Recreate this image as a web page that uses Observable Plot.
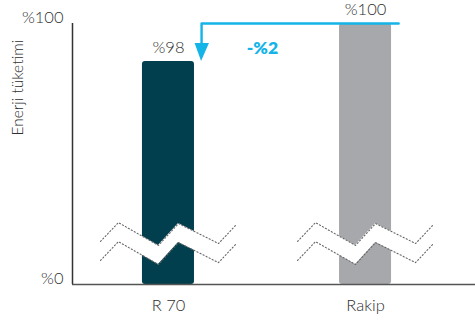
<!DOCTYPE html>
<html>
<head>
<meta charset="utf-8">
<script src="https://cdn.jsdelivr.net/npm/d3@7"></script>
<script src="https://cdn.jsdelivr.net/npm/@observablehq/plot@0.6"></script>
<style>
  html, body { margin: 0; padding: 0; background: #fff; }
  #chart svg { display: block; }
</style>
</head>
<body>
<div id="chart"></div>
<script>
// Energy consumption: R 70 vs. competitor, on a broken value axis
const categories = ["R 70", "Rakip"];
const values = [98, 100];
const valueLabels = ["%98", "%100"];
const barColors = ["#023f4e", "#a7a8ab"];
const yTitle = "Enerji tüketimi";

// visible floor of the broken axis and its two labelled ticks
const axisFloor = 86.3;
const tickValues = [axisFloor, 100];
const tickLabels = ["%0", "%100"];

// zigzag "axis break" drawn across each bar (offsets from the bar centre, in value units)
const breakDx = [-0.345, -0.254, -0.051, 0.051, 0.254, 0.345];
const breakTop = [88.56, 89.55, 88.35, 89.5, 88.45, 89.45];
const breakGap = 1.0;

const barHalf = 0.132;
const xDomain = [-0.487, 1.558];
const accent = "#14b4e8";
const ink = "#2e2e2e";

const bars = categories.map((c, i) => ({
  i, name: c, value: values[i], label: valueLabels[i], color: barColors[i]
}));

const breakPts = [];
bars.forEach(b => {
  breakDx.forEach((dx, k) => {
    breakPts.push({ bar: b.i, x: b.i + dx, top: breakTop[k], bottom: breakTop[k] - breakGap });
  });
});
const breakLines = breakPts.flatMap(p => [
  { z: `${p.bar}-a`, x: p.x, y: p.top },
  { z: `${p.bar}-b`, x: p.x, y: p.bottom }
]);

// difference arrow from the competitor level down to R 70
const arrowX = 0.168;
const arrowPath = [
  { x: 1.168, y: values[1] },
  { x: arrowX, y: values[1] },
  { x: arrowX, y: 98.9 }
];
const arrowHead = [
  { x: arrowX - 0.033, y1: 98.95, y2: 98.95 },
  { x: arrowX, y1: 98.95, y2: values[0] },
  { x: arrowX + 0.04, y1: 98.95, y2: 98.95 }
];
const diffLabel = `-%${values[1] - values[0]}`;

const chart = Plot.plot({
  width: 475,
  height: 322,
  marginLeft: 72,
  marginRight: 0,
  marginTop: 23,
  marginBottom: 38,
  style: { fontFamily: "Lato, sans-serif", fontSize: "16px", fontWeight: 300, color: ink, background: "#fff" },
  x: { domain: xDomain, axis: null },
  y: { domain: [axisFloor, 100], axis: null },
  marks: [
    Plot.rectY(bars, {
      x1: d => d.i - barHalf, x2: d => d.i + barHalf,
      y1: axisFloor, y2: "value", fill: "color", rx: 3
    }),
    Plot.areaY(breakPts, { x: "x", y1: "bottom", y2: "top", z: "bar", fill: "#fff" }),
    Plot.line(breakLines, {
      x: "x", y: "y", z: "z", stroke: "#666", strokeWidth: 1.1, strokeDasharray: "1.2 2.2"
    }),
    Plot.ruleY([axisFloor], { stroke: "#555", strokeWidth: 1.5 }),
    Plot.ruleX([xDomain[0]], { y1: axisFloor, y2: 100, stroke: "#333", strokeWidth: 1.5 }),
    Plot.axisY({
      ticks: tickValues, tickFormat: (d, i) => tickLabels[i],
      tickSize: 0, tickPadding: 9, fontSize: 16.5, dy: -6, label: null, fill: ink
    }),
    Plot.axisX({
      ticks: [0, 1], tickFormat: i => categories[i],
      tickSize: 0, tickPadding: 15, fontSize: 16.5, label: null, fill: ink
    }),
    Plot.text([yTitle], {
      frameAnchor: "left", rotate: -90, dx: -54, dy: -18.5, fontSize: 15.5, fill: ink
    }),
    Plot.line(arrowPath, { x: "x", y: "y", stroke: accent, strokeWidth: 2.4 }),
    Plot.areaY(arrowHead, { x: "x", y1: "y1", y2: "y2", fill: accent }),
    Plot.text([diffLabel], {
      x: 0.477, y: 98.7, fill: accent, fontWeight: 800, fontSize: 17.5
    }),
    Plot.text(bars, { x: "i", y: "value", text: "label", dy: -14, fontSize: 16.5, fill: ink })
  ]
});

document.getElementById("chart").append(chart);
</script>
</body>
</html>
